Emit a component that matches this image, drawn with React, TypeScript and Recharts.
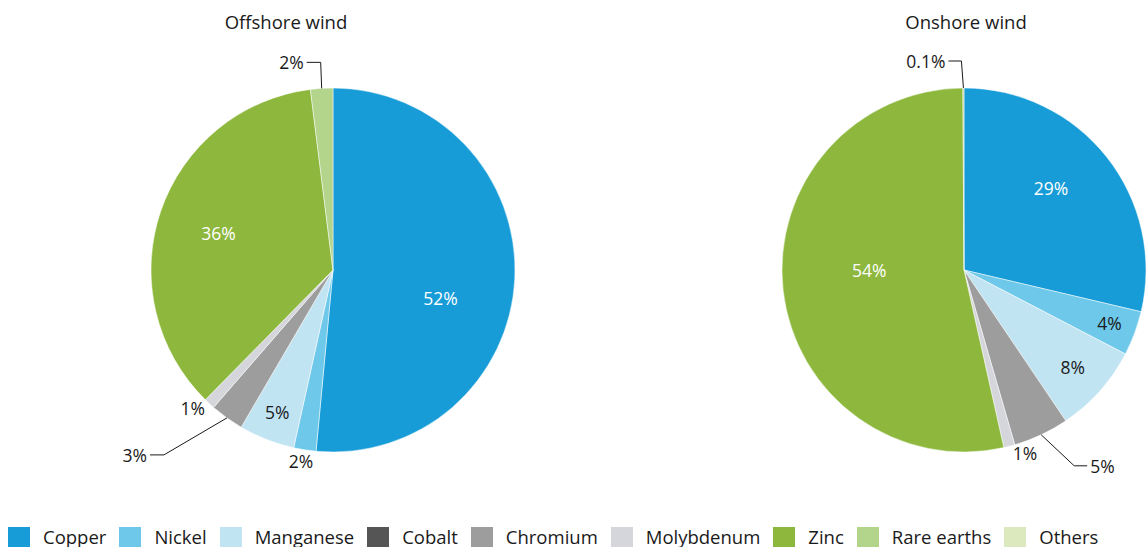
import React from 'react';
import { PieChart, Pie, Cell } from 'recharts';

const materials = ['Copper', 'Nickel', 'Manganese', 'Cobalt', 'Chromium', 'Molybdenum', 'Zinc', 'Rare earths', 'Others'];
const colors = ['#179cd8', '#6dc8ea', '#c1e4f3', '#555555', '#9d9d9d', '#d5d6db', '#8db83d', '#b3d48b', '#dce9bf'];
const offshoreValues = [52, 2, 5, 0, 3, 1, 36, 2, 0];
const onshoreValues = [29, 4, 8, 0, 5, 1, 54, 0.1, 0];
const offshoreLabels = ['52%', '2%', '5%', '', '3%', '1%', '36%', '2%', ''];
const onshoreLabels = ['29%', '4%', '8%', '', '5%', '1%', '54%', '0.1%', ''];

type Layout = { rf?: number; da?: number; color?: string; leader?: [number, number, number] };

const offshoreLayout: Record<number, Layout> = {
  0: { rf: 0.61, da: 12, color: '#fff' },
  1: { rf: 1.064, da: 0.6 },
  2: { rf: 0.84, da: 0 },
  4: { leader: [-63, 37, -14] },
  5: { rf: 1.08, da: 2.8 },
  6: { rf: 0.66, da: -1, color: '#fff' },
  7: { leader: [-1, -26, -14] },
};
const onshoreLayout: Record<number, Layout> = {
  0: { rf: 0.657, da: -4.9, color: '#fff' },
  1: { rf: 0.85, da: -0.4 },
  2: { rf: 0.8, da: 0 },
  4: { leader: [33, 31, 13] },
  5: { rf: 1.06, da: -4 },
  6: { rf: 0.52, da: 6.5, color: '#fff' },
  7: { leader: [-2, -27, -13] },
};

const FONT = '"Open Sans", "Noto Sans", sans-serif';
const LABEL_SIZE = 17.5;

function build(values: number[], labels: string[]) {
  return materials
    .map((name, i) => ({ name, value: values[i], label: labels[i], idx: i }))
    .filter((d) => d.value > 0);
}

const offshoreData = build(offshoreValues, offshoreLabels);
const onshoreData = build(onshoreValues, onshoreLabels);

function makeLabel(data: { label: string; idx: number }[], layout: Record<number, Layout>) {
  return (props: any) => {
    const { cx, cy, midAngle, outerRadius, index } = props;
    const d = data[index];
    if (!d) return null;
    const lay = layout[d.idx];
    if (!lay) return null;
    const theta = 90 - midAngle;
    if (lay.leader) {
      const rad = (theta * Math.PI) / 180;
      const sx = cx + outerRadius * Math.sin(rad);
      const sy = cy - outerRadius * Math.cos(rad);
      const ex = sx + lay.leader[0];
      const ey = sy + lay.leader[1];
      const tx = ex + lay.leader[2];
      const dir = lay.leader[2] < 0 ? -1 : 1;
      return (
        <g key={`l-${index}`}>
          <polyline points={`${sx},${sy} ${ex},${ey} ${tx},${ey}`} fill="none" stroke="#1a1a1a" strokeWidth={1} />
          <text x={tx + dir * 3} y={ey} textAnchor={dir < 0 ? 'end' : 'start'} dominantBaseline="central" fill="#1a1a1a" fontSize={LABEL_SIZE} fontFamily={FONT}>
            {d.label}
          </text>
        </g>
      );
    }
    const rad = ((theta + (lay.da || 0)) * Math.PI) / 180;
    const r = outerRadius * (lay.rf || 0.6);
    const x = cx + r * Math.sin(rad);
    const y = cy - r * Math.cos(rad);
    return (
      <text key={`t-${index}`} x={x} y={y} textAnchor="middle" dominantBaseline="central" fill={lay.color || '#1a1a1a'} fontSize={LABEL_SIZE} fontFamily={FONT}>
        {d.label}
      </text>
    );
  };
}

export default function App() {
  return (
    <div style={{ position: 'absolute', left: 0, top: 0, width: 1146, height: 547, overflow: 'hidden', background: '#fff', fontFamily: FONT }}>
      <PieChart width={1146} height={547} margin={{ top: 0, right: 0, bottom: 0, left: 0 }}>
        <Pie
          data={offshoreData}
          dataKey="value"
          nameKey="name"
          cx={333}
          cy={270}
          outerRadius={182}
          startAngle={90}
          endAngle={-270}
          stroke="#fff"
          strokeWidth={0.5}
          labelLine={false}
          label={makeLabel(offshoreData, offshoreLayout)}
          isAnimationActive={false}
        >
          {offshoreData.map((d) => (
            <Cell key={d.name} fill={colors[d.idx]} />
          ))}
        </Pie>
        <Pie
          data={onshoreData}
          dataKey="value"
          nameKey="name"
          cx={964}
          cy={270}
          outerRadius={182}
          startAngle={90}
          endAngle={-270}
          stroke="#fff"
          strokeWidth={0.5}
          labelLine={false}
          label={makeLabel(onshoreData, onshoreLayout)}
          isAnimationActive={false}
        >
          {onshoreData.map((d) => (
            <Cell key={d.name} fill={colors[d.idx]} />
          ))}
        </Pie>
      </PieChart>
      <div style={{ position: 'absolute', left: 186, width: 200, top: 10, textAlign: 'center', fontSize: 18.5, lineHeight: '24px', color: '#1a1a1a' }}>
        Offshore wind
      </div>
      <div style={{ position: 'absolute', left: 866, width: 200, top: 10, textAlign: 'center', fontSize: 18.5, lineHeight: '24px', color: '#1a1a1a' }}>
        Onshore wind
      </div>
      <div style={{ position: 'absolute', left: 8, top: 527, display: 'flex', alignItems: 'flex-start', height: 22 }}>
        {materials.map((m, i) => (
          <div key={m} style={{ display: 'flex', alignItems: 'flex-start', marginRight: 13 }}>
            <div style={{ width: 22, height: 22, background: colors[i], marginRight: 13 }} />
            <span style={{ fontSize: 18.5, color: '#1a1a1a', lineHeight: '20px' }}>{m}</span>
          </div>
        ))}
      </div>
    </div>
  );
}
